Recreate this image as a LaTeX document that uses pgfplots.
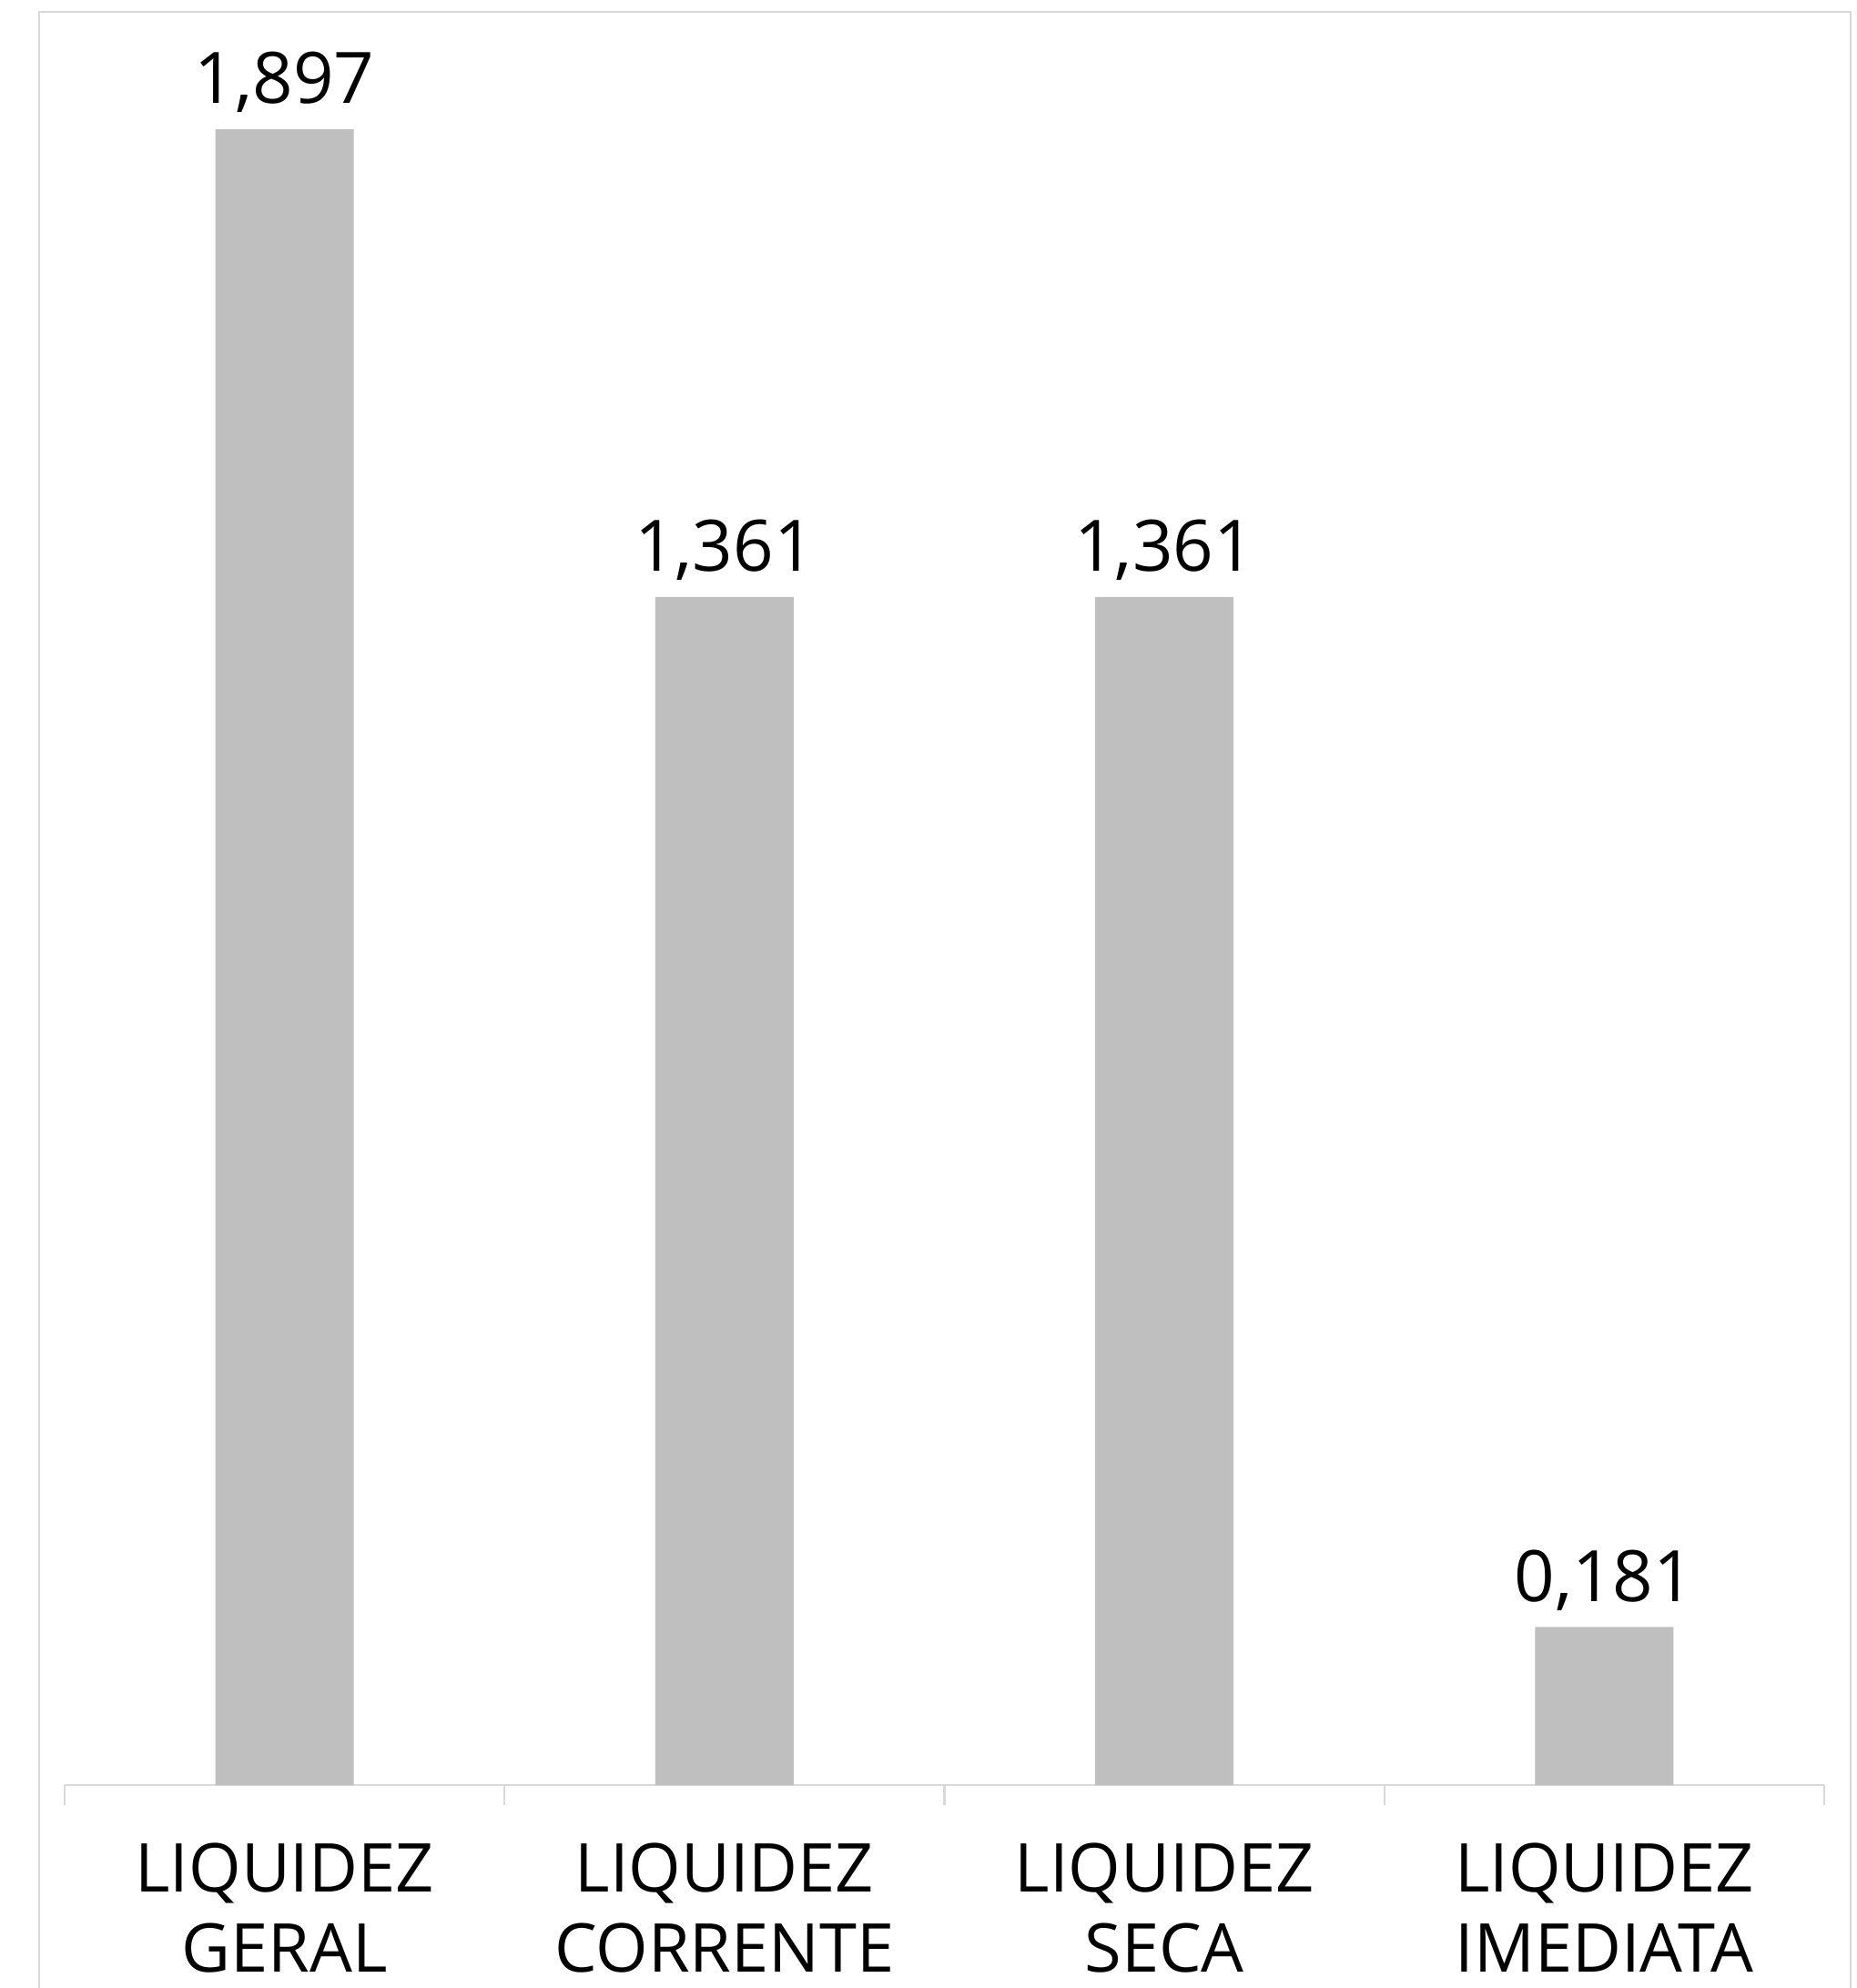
\documentclass[border=0pt]{standalone}
\usepackage{pgfplots}
\pgfplotsset{compat=1.18}
\usepackage{fontspec}
\setmainfont{Open Sans}
\definecolor{barg}{HTML}{BFBFBF}
\definecolor{lineg}{HTML}{D9D9D9}
\begin{document}
\begin{tikzpicture}
\useasboundingbox (0,0) rectangle (510pt,546pt);
\clip (0,0) rectangle (510pt,546pt);
\draw[lineg, line width=0.6pt] (10.75pt,-20pt) rectangle (508.25pt,542.75pt);
\begin{axis}[
  at={(17.75pt,55.75pt)}, anchor=south west,
  scale only axis, width=483.25pt, height=479.5pt,
  xmin=-0.5, xmax=3.5, ymin=0, ymax=2.0,
  axis y line=none,
  axis x line*=bottom,
  axis line style={lineg, line width=0.6pt, -},
  xtick={0,1,2,3},
  xticklabels={{LIQUIDEZ\\GERAL},{LIQUIDEZ\\CORRENTE},{LIQUIDEZ\\SECA},{LIQUIDEZ\\IMEDIATA}},
  major tick length=0pt,
  minor xtick={-0.5,0.5,1.5,2.5,3.5},
  minor tick length=5.5pt,
  tick align=outside,
  minor tick style={lineg, line width=0.6pt},
  xticklabel style={font=\fontsize{18.5}{22}\selectfont, align=center, anchor=north, yshift=-12.5pt},
  clip=false,
]
\addplot[ybar, bar width=38pt, fill=barg, draw=none,
  point meta=explicit symbolic,
  nodes near coords=\pgfplotspointmeta,
  nodes near coords style={font=\fontsize{19.5}{22}\selectfont, anchor=base, yshift=7pt, inner sep=0pt}]
coordinates {
  (0,1.897) [1,897]
  (1,1.361) [1,361]
  (2,1.361) [1,361]
  (3,0.181) [0,181]
};
\end{axis}
\end{tikzpicture}
\end{document}
